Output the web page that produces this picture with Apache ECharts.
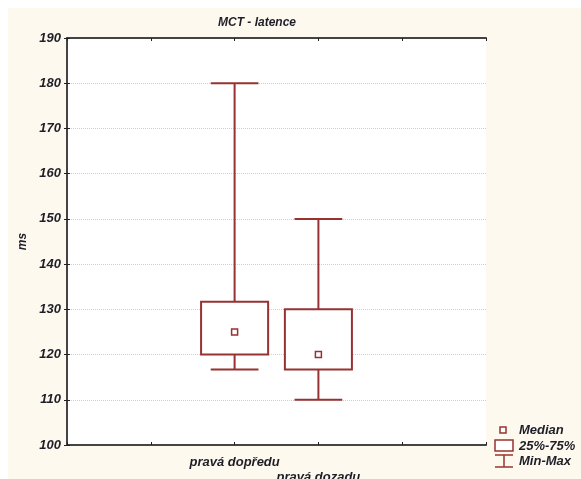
<!DOCTYPE html>
<html>
<head>
<meta charset="utf-8">
<script src="https://cdn.jsdelivr.net/npm/echarts@6/dist/echarts.min.js"></script>
<style>
html, body { margin: 0; padding: 0; background: #fff; overflow: hidden; }
#paper { position: absolute; left: 8px; top: 8px; width: 573px; height: 471px; background: #fef9ee; }
#main { position: absolute; left: 0; top: 0; width: 581px; height: 479px; }
</style>
</head>
<body>
<div id="paper"></div>
<div id="main"></div>
<script>
// MCT - latence, box plot (median, 25%-75%, min-max)
var categories = ['pravá dopředu', 'pravá dozadu'];
var xPos = [2, 3];
var minVals = [116.7, 110];
var q1Vals = [120, 116.7];
var medianVals = [125, 120];
var q3Vals = [131.7, 130];
var maxVals = [180, 150];
var yTicks = [100, 110, 120, 130, 140, 150, 160, 170, 180, 190];

var red = '#983232';
var txt = '#1e1e28';
var fontBI = { fontFamily: 'Liberation Sans', fontWeight: 'bold', fontStyle: 'italic' };

var boxData = [], whiskerData = [], medianData = [];
for (var i = 0; i < categories.length; i++) {
	boxData.push([xPos[i], q1Vals[i], q3Vals[i]]);
	whiskerData.push([xPos[i], minVals[i], maxVals[i], q1Vals[i], q3Vals[i]]);
	medianData.push([xPos[i], medianVals[i]]);
}

function xLabel(v) {
	var k = xPos.indexOf(v);
	if (k < 0) return '';
	return k % 2 === 1 ? '\n' + categories[k] : categories[k];
}

var chart = echarts.init(document.getElementById('main'));
var option = {
	animation: false,
	backgroundColor: 'transparent',
	title: {
		text: 'MCT - latence',
		left: 252, top: 12, textAlign: 'center',
		textStyle: { fontFamily: 'Liberation Sans', fontWeight: 'bold', fontStyle: 'italic', fontSize: 12, color: txt }
	},
	grid: { left: 67, top: 38, right: 95, bottom: 34, show: true, backgroundColor: '#fff', borderWidth: 0, containLabel: false, outerBoundsMode: 'none' },
	xAxis: [{
		type: 'value', min: 0, max: 5, interval: 1,
		axisLine: { lineStyle: { color: '#444', width: 2 } },
		axisTick: { inside: true, length: 3, lineStyle: { color: '#222' } },
		splitLine: { show: false },
		axisLabel: {
			formatter: xLabel, margin: 10, lineHeight: 15,
			fontFamily: 'Liberation Sans', fontWeight: 'bold', fontStyle: 'italic', fontSize: 13, color: txt
		}
	}, {
		type: 'value', min: 0, max: 5, interval: 1, position: 'top',
		axisLine: { show: true, lineStyle: { color: '#444', width: 2 } },
		axisTick: { inside: true, length: 3, lineStyle: { color: '#222' } },
		splitLine: { show: false },
		axisLabel: { show: false }
	}],
	yAxis: [{
		type: 'value', min: yTicks[0], max: yTicks[yTicks.length - 1], interval: 10,
		name: 'ms', nameLocation: 'middle', nameGap: 36, nameRotate: 90,
		nameTextStyle: { fontFamily: 'Liberation Sans', fontWeight: 'bold', fontStyle: 'italic', fontSize: 12, color: txt },
		axisLine: { show: true, lineStyle: { color: '#444', width: 2 } },
		axisTick: { show: true, inside: true, length: 3, lineStyle: { color: '#222' } },
		splitLine: { show: true, lineStyle: { color: '#cfcfcf', type: [1, 1], width: 1 } },
		axisLabel: { margin: 6, fontFamily: 'Liberation Sans', fontWeight: 'bold', fontStyle: 'italic', fontSize: 13, color: txt }
	}, {
		type: 'value', min: yTicks[0], max: yTicks[yTicks.length - 1], interval: 10, position: 'right',
		axisLine: { show: true, lineStyle: { color: '#444', width: 2 } },
		axisTick: { show: true, inside: true, length: 3, lineStyle: { color: '#222' } },
		splitLine: { show: false },
		axisLabel: { show: false }
	}],
	series: [{
		name: 'Min-Max',
		type: 'custom',
		data: whiskerData,
		z: 3,
		renderItem: function (params, api) {
			var x = api.value(0);
			var pMin = api.coord([x, api.value(1)]);
			var pMax = api.coord([x, api.value(2)]);
			var pQ1 = api.coord([x, api.value(3)]);
			var pQ3 = api.coord([x, api.value(4)]);
			var half = api.size([0.57, 0])[0] / 2;
			var st = { stroke: red, lineWidth: 2, fill: null };
			return {
				type: 'group',
				children: [
					{ type: 'line', shape: { x1: pMax[0], y1: pMax[1], x2: pQ3[0], y2: pQ3[1] }, style: st },
					{ type: 'line', shape: { x1: pQ1[0], y1: pQ1[1], x2: pMin[0], y2: pMin[1] }, style: st },
					{ type: 'line', shape: { x1: pMax[0] - half, y1: pMax[1], x2: pMax[0] + half, y2: pMax[1] }, style: st },
					{ type: 'line', shape: { x1: pMin[0] - half, y1: pMin[1], x2: pMin[0] + half, y2: pMin[1] }, style: st }
				]
			};
		}
	}, {
		name: '25%-75%',
		type: 'custom',
		data: boxData,
		z: 4,
		renderItem: function (params, api) {
			var x = api.value(0);
			var pLo = api.coord([x, api.value(1)]);
			var pHi = api.coord([x, api.value(2)]);
			var w = api.size([0.8, 0])[0];
			return {
				type: 'rect',
				shape: { x: pLo[0] - w / 2, y: pHi[1], width: w, height: pLo[1] - pHi[1] },
				style: { stroke: red, lineWidth: 2, fill: '#fff' }
			};
		}
	}, {
		name: 'Median',
		type: 'scatter',
		data: medianData,
		z: 5,
		symbol: 'rect',
		symbolSize: 6,
		itemStyle: { color: '#fff', borderColor: red, borderWidth: 1.5, opacity: 1 }
	}],
	graphic: [
		{ type: 'rect', shape: { x: 500, y: 427, width: 6, height: 6 }, style: { fill: '#fff', stroke: red, lineWidth: 1.5 } },
		{ type: 'text', x: 519, y: 430, style: Object.assign({ text: 'Median', fontSize: 13, fill: txt, verticalAlign: 'middle' }, fontBI) },
		{ type: 'rect', shape: { x: 495, y: 440, width: 18, height: 11 }, style: { fill: '#fff', stroke: red, lineWidth: 1.5 } },
		{ type: 'text', x: 519, y: 446, style: Object.assign({ text: '25%-75%', fontSize: 13, fill: txt, verticalAlign: 'middle' }, fontBI) },
		{ type: 'line', shape: { x1: 495, y1: 455, x2: 513, y2: 455 }, style: { stroke: red, lineWidth: 1.5 } },
		{ type: 'line', shape: { x1: 504, y1: 455, x2: 504, y2: 467 }, style: { stroke: red, lineWidth: 1.5 } },
		{ type: 'line', shape: { x1: 495, y1: 467, x2: 513, y2: 467 }, style: { stroke: red, lineWidth: 1.5 } },
		{ type: 'text', x: 519, y: 461, style: Object.assign({ text: 'Min-Max', fontSize: 13, fill: txt, verticalAlign: 'middle' }, fontBI) }
	]
};
chart.setOption(option);
</script>
</body>
</html>
